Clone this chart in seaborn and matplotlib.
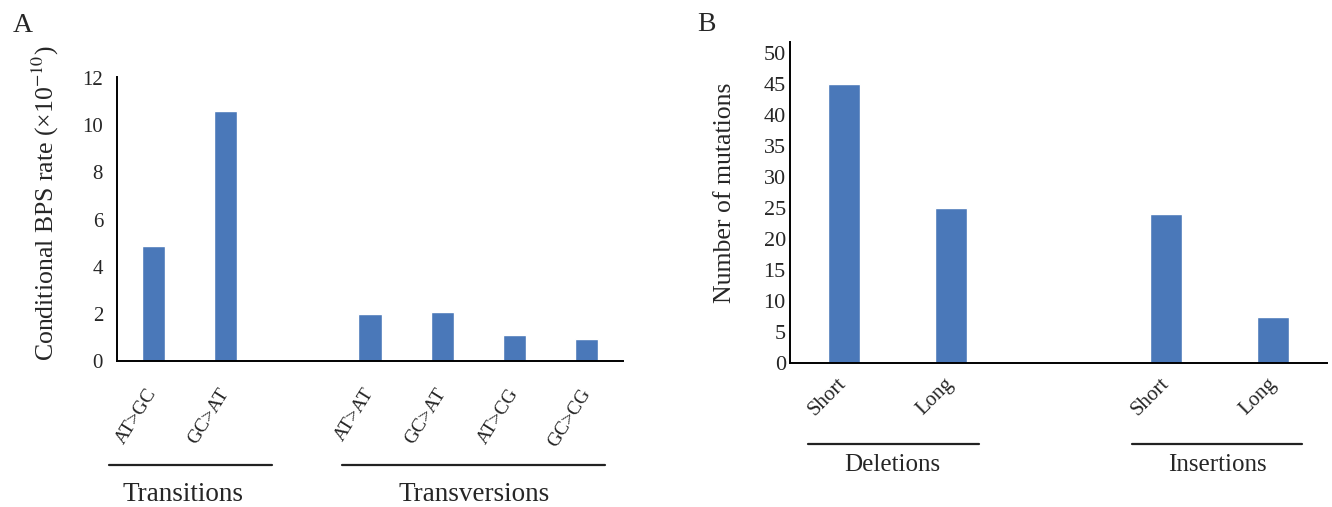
import matplotlib
matplotlib.use("Agg")
import matplotlib.pyplot as plt
import matplotlib.transforms as mtransforms
import pandas as pd
import seaborn as sns

# panel A: conditional base-pair substitution rates (x1e-10)
bps_groups = ["Transitions", "Transversions"]
bps_labels = [["AT>GC", "GC>AT"], ["AT>AT", "GC>AT", "AT>CG", "GC>CG"]]
bps_rates = [[4.9, 10.6], [2.0, 2.1, 1.1, 0.95]]

# panel B: indel counts
indel_groups = ["Deletions", "Insertions"]
indel_labels = [["Short", "Long"], ["Short", "Long"]]
indel_counts = [[45, 25], [24, 7.5]]

BAR = "#4a78b9"

sns.set_style("white")
plt.rcParams["font.family"] = ["Liberation Serif", "DejaVu Serif"]
plt.rcParams["mathtext.fontset"] = "stix"


def slots(labels):
    # one empty slot between the groups, like the excel original
    pos, start = [], 0
    for grp in labels:
        pos.append(list(range(start, start + len(grp))))
        start += len(grp) + 1
    return pos, start - 1


def panel(ax, groups, labels, values, width, yticks, ylim, ylabel, lab_xy,
          tick_size, xtick_size, rot, pad, shift, spans, centers, line_y,
          text_y, grp_size):
    pos, n = slots(labels)
    df = pd.DataFrame({
        "x": [p for g in pos for p in g],
        "y": [v for g in values for v in g],
    })
    sns.barplot(data=df, x="x", y="y", native_scale=True, width=width,
                color=BAR, saturation=1, errorbar=None, ax=ax)
    ax.set_xlim(-0.5, n - 0.5)
    ax.set_ylim(*ylim)
    ax.set_yticks(yticks)
    ax.set_xticks(df["x"])
    ax.set_xticklabels([l for g in labels for l in g], rotation=rot,
                       ha="right", va="center", rotation_mode="anchor",
                       fontsize=xtick_size)
    off = mtransforms.ScaledTranslation(shift / 100, 0, ax.figure.dpi_scale_trans)
    for t in ax.get_xticklabels():
        t.set_transform(t.get_transform() + off)
    ax.tick_params(axis="x", length=0, pad=pad)
    ax.tick_params(axis="y", length=0, labelsize=tick_size)
    ax.set_xlabel("")
    ax.set_ylabel(ylabel, fontsize=18.5)
    ax.yaxis.label.set_va("center")
    ax.yaxis.set_label_coords(*lab_xy)
    sns.despine(ax=ax)
    for s in ["left", "bottom"]:
        ax.spines[s].set_color("black")
        ax.spines[s].set_linewidth(1.4)

    tr = ax.get_xaxis_transform()
    for name, (a, b), c in zip(groups, spans, centers):
        ax.plot([a, b], [line_y, line_y], transform=tr, clip_on=False,
                color="#222222", lw=1.6)
        ax.text(c, text_y, name, transform=tr, ha="center", va="baseline",
                fontsize=grp_size)


fig = plt.figure(figsize=(13.32, 5.07), dpi=100)
axA = fig.add_axes([0.0878, 0.288, 0.3799, 0.560])
axB = fig.add_axes([0.5931, 0.284, 0.4032, 0.633])

panel(axA, bps_groups, bps_labels, bps_rates, 0.32, range(0, 13, 2), (0, 12.05),
      "Conditional BPS rate (×10$^{-10}$)", (-0.142, 0.556),
      15, 14, 58, 21, 10, [(-0.61, 1.65), (2.61, 6.25)], [0.41, 4.44],
      -0.366, -0.492, 19.5)
axA.tick_params(axis="y", pad=10)

panel(axB, indel_groups, indel_labels, indel_counts, 0.30, range(0, 51, 5), (0, 51.8),
      "Number of mutations", (-0.121, 0.53),
      16, 15, 45, 13, 8, [(-0.33, 1.26), (2.68, 4.27)], [0.45, 3.48],
      -0.253, -0.338, 18)
axB.tick_params(axis="y", pad=3)

fig.text(13 / 1332, 1 - 32 / 507, "A", fontsize=20, va="baseline")
fig.text(697 / 1332, 1 - 31 / 507, "B", fontsize=20, va="baseline")

fig.savefig("out.png", dpi=100)
